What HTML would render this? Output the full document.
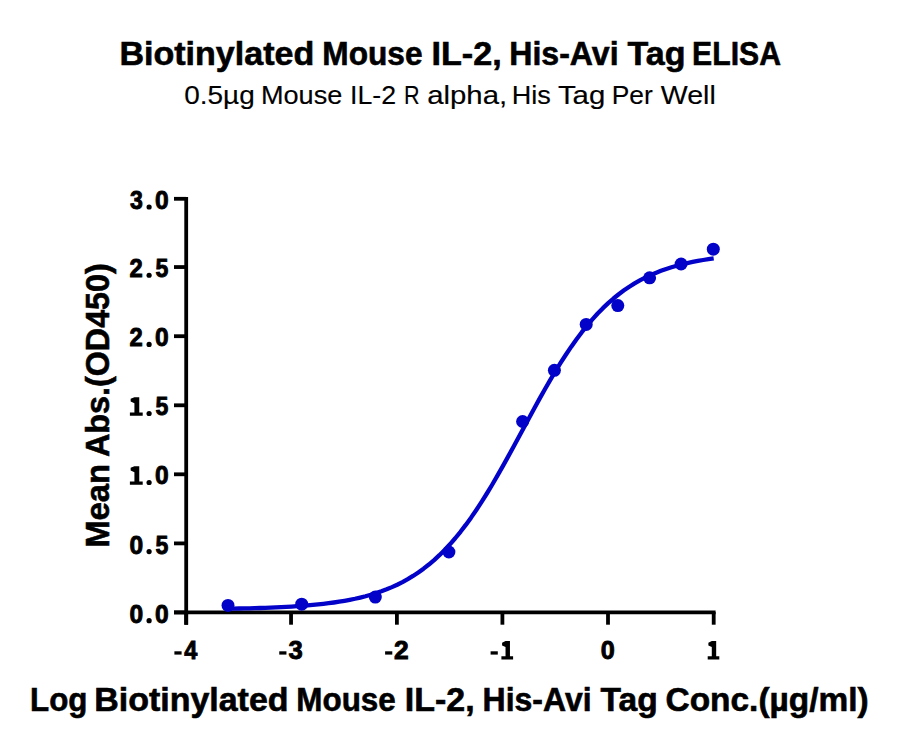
<!DOCTYPE html>
<html><head><meta charset="utf-8"><style>
html,body{margin:0;padding:0;background:#fff;width:900px;height:750px;overflow:hidden}
svg{display:block}
text{font-family:"Liberation Sans",sans-serif;fill:#000}
.b{font-weight:bold;stroke:#000;stroke-width:0.6px}
.r{stroke:#000;stroke-width:0.15px}
.d{font-weight:bold;stroke:#000;stroke-width:0.9px}
</style></head><body>
<svg width="900" height="750" viewBox="0 0 900 750">
<rect width="900" height="750" fill="#fff"/>
<text class="b" x="119.47" y="65" font-size="33" textLength="194.70" lengthAdjust="spacingAndGlyphs">Biotinylated</text>
<text class="b" x="322.32" y="65" font-size="33" textLength="100.16" lengthAdjust="spacingAndGlyphs">Mouse</text>
<text class="b" x="431.46" y="65" font-size="33" textLength="70.26" lengthAdjust="spacingAndGlyphs">IL-2,</text>
<text class="b" x="509.30" y="65" font-size="33" textLength="109.30" lengthAdjust="spacingAndGlyphs">His-Avi</text>
<text class="b" x="627.60" y="65" font-size="33" textLength="57.98" lengthAdjust="spacingAndGlyphs">Tag</text>
<text class="b" x="692.11" y="65" font-size="33" textLength="88.86" lengthAdjust="spacingAndGlyphs">ELISA</text>
<text class="r" x="184.20" y="103.8" font-size="26" textLength="70.60" lengthAdjust="spacingAndGlyphs">0.5&#181;g</text>
<text class="r" x="260.96" y="103.8" font-size="26" textLength="81.37" lengthAdjust="spacingAndGlyphs">Mouse</text>
<text class="r" x="349.99" y="103.8" font-size="26" textLength="46.02" lengthAdjust="spacingAndGlyphs">IL-2</text>
<text class="r" x="404.09" y="103.8" font-size="26" textLength="15.58" lengthAdjust="spacingAndGlyphs">R</text>
<text class="r" x="427.16" y="103.8" font-size="26" textLength="79.96" lengthAdjust="spacingAndGlyphs">alpha,</text>
<text class="r" x="511.66" y="103.8" font-size="26" textLength="39.11" lengthAdjust="spacingAndGlyphs">His</text>
<text class="r" x="557.92" y="103.8" font-size="26" textLength="47.36" lengthAdjust="spacingAndGlyphs">Tag</text>
<text class="r" x="611.71" y="103.8" font-size="26" textLength="41.04" lengthAdjust="spacingAndGlyphs">Per</text>
<text class="r" x="660.78" y="103.8" font-size="26" textLength="55.03" lengthAdjust="spacingAndGlyphs">Well</text>
<text class="b" x="30.04" y="711.0" font-size="33" textLength="57.36" lengthAdjust="spacingAndGlyphs">Log</text>
<text class="b" x="94.18" y="711.0" font-size="33" textLength="194.40" lengthAdjust="spacingAndGlyphs">Biotinylated</text>
<text class="b" x="296.34" y="711.0" font-size="33" textLength="99.44" lengthAdjust="spacingAndGlyphs">Mouse</text>
<text class="b" x="404.88" y="711.0" font-size="33" textLength="69.83" lengthAdjust="spacingAndGlyphs">IL-2,</text>
<text class="b" x="482.60" y="711.0" font-size="33" textLength="108.99" lengthAdjust="spacingAndGlyphs">His-Avi</text>
<text class="b" x="600.60" y="711.0" font-size="33" textLength="57.25" lengthAdjust="spacingAndGlyphs">Tag</text>
<text class="b" x="665.56" y="711.0" font-size="33" textLength="203.05" lengthAdjust="spacingAndGlyphs">Conc.(&#181;g/ml)</text>
<text class="b" transform="translate(109.2,0) rotate(-90)" x="-547.85" y="0" font-size="33.5" textLength="83.94" lengthAdjust="spacingAndGlyphs">Mean</text>
<text class="b" transform="translate(109.2,0) rotate(-90)" x="-457.00" y="0" font-size="33.5" textLength="193.77" lengthAdjust="spacingAndGlyphs">Abs.(OD450)</text>
<g stroke="#000" stroke-width="3.8" fill="none" stroke-linecap="butt">
<line x1="186.2" y1="196.9" x2="186.2" y2="624.7"/>
<line x1="174" y1="612.45" x2="715.6" y2="612.45"/>
<line x1="174" y1="612.45" x2="186.2" y2="612.45"/><line x1="174" y1="543.40" x2="186.2" y2="543.40"/><line x1="174" y1="474.30" x2="186.2" y2="474.30"/><line x1="174" y1="405.30" x2="186.2" y2="405.30"/><line x1="174" y1="336.20" x2="186.2" y2="336.20"/><line x1="174" y1="267.05" x2="186.2" y2="267.05"/><line x1="174" y1="198.80" x2="186.2" y2="198.80"/>
<line x1="186.20" y1="612" x2="186.20" y2="624.7"/><line x1="291.05" y1="612" x2="291.05" y2="624.7"/><line x1="396.90" y1="612" x2="396.90" y2="624.7"/><line x1="502.40" y1="612" x2="502.40" y2="624.7"/><line x1="608.00" y1="612" x2="608.00" y2="624.7"/><line x1="713.70" y1="612" x2="713.70" y2="624.7"/>
</g>
<g fill="#000">
<text class="d" x="129.58" y="622.55" font-size="25.5" textLength="13.66" lengthAdjust="spacingAndGlyphs">0</text>
<circle cx="149.1" cy="620.65" r="2.6"/>
<text class="d" x="155.08" y="622.55" font-size="25.5" textLength="13.66" lengthAdjust="spacingAndGlyphs">0</text>
<text class="d" x="129.58" y="553.50" font-size="25.5" textLength="13.66" lengthAdjust="spacingAndGlyphs">0</text>
<circle cx="149.1" cy="551.60" r="2.6"/>
<text class="d" x="155.49" y="553.50" font-size="25.5" textLength="12.84" lengthAdjust="spacingAndGlyphs">5</text>
<path transform="translate(129.90,484.80) scale(1.076,0.974)" d="M4.2,-19.1 L8.7,-19.1 L8.7,-3.4 L11.9,-3.4 L11.9,0 L0,0 L0,-3.4 L4.2,-3.4 L4.2,-13 L0.7,-14.6 L0.7,-17.4 Z"/>
<circle cx="149.1" cy="482.50" r="2.6"/>
<text class="d" x="155.08" y="484.40" font-size="25.5" textLength="13.66" lengthAdjust="spacingAndGlyphs">0</text>
<path transform="translate(129.90,415.80) scale(1.076,0.974)" d="M4.2,-19.1 L8.7,-19.1 L8.7,-3.4 L11.9,-3.4 L11.9,0 L0,0 L0,-3.4 L4.2,-3.4 L4.2,-13 L0.7,-14.6 L0.7,-17.4 Z"/>
<circle cx="149.1" cy="413.50" r="2.6"/>
<text class="d" x="155.49" y="415.40" font-size="25.5" textLength="12.84" lengthAdjust="spacingAndGlyphs">5</text>
<text class="d" x="129.61" y="346.30" font-size="25.5" textLength="13.24" lengthAdjust="spacingAndGlyphs">2</text>
<circle cx="149.1" cy="344.40" r="2.6"/>
<text class="d" x="155.08" y="346.30" font-size="25.5" textLength="13.66" lengthAdjust="spacingAndGlyphs">0</text>
<text class="d" x="129.61" y="277.15" font-size="25.5" textLength="13.24" lengthAdjust="spacingAndGlyphs">2</text>
<circle cx="149.1" cy="275.25" r="2.6"/>
<text class="d" x="155.49" y="277.15" font-size="25.5" textLength="12.84" lengthAdjust="spacingAndGlyphs">5</text>
<text class="d" x="129.99" y="208.90" font-size="25.5" textLength="12.84" lengthAdjust="spacingAndGlyphs">3</text>
<circle cx="149.1" cy="207.00" r="2.6"/>
<text class="d" x="155.08" y="208.90" font-size="25.5" textLength="13.66" lengthAdjust="spacingAndGlyphs">0</text>
<rect x="174.40" y="651.3" width="7.2" height="3.3"/>
<text class="d" x="184.15" y="659.20" font-size="25.5" textLength="13.05" lengthAdjust="spacingAndGlyphs">4</text>
<rect x="279.25" y="651.3" width="7.2" height="3.3"/>
<text class="d" x="288.60" y="659.20" font-size="25.5" textLength="14.24" lengthAdjust="spacingAndGlyphs">3</text>
<rect x="385.10" y="651.3" width="7.2" height="3.3"/>
<text class="d" x="394.02" y="659.20" font-size="25.5" textLength="14.68" lengthAdjust="spacingAndGlyphs">2</text>
<rect x="490.60" y="651.3" width="7.2" height="3.3"/>
<path transform="translate(501.40,659.60) scale(0.983,0.974)" d="M4.2,-19.1 L8.7,-19.1 L8.7,-3.4 L11.9,-3.4 L11.9,0 L0,0 L0,-3.4 L4.2,-3.4 L4.2,-13 L0.7,-14.6 L0.7,-17.4 Z"/>
<text class="d" x="600.66" y="659.20" font-size="25.5" textLength="14.01" lengthAdjust="spacingAndGlyphs">0</text>
<path transform="translate(707.70,659.60) scale(0.975,0.974)" d="M4.2,-19.1 L8.7,-19.1 L8.7,-3.4 L11.9,-3.4 L11.9,0 L0,0 L0,-3.4 L4.2,-3.4 L4.2,-13 L0.7,-14.6 L0.7,-17.4 Z"/>
</g>
<polyline points="228.40,608.71 233.67,608.62 238.95,608.52 244.22,608.40 249.50,608.28 254.77,608.13 260.05,607.98 265.32,607.80 270.60,607.60 275.87,607.38 281.15,607.14 286.42,606.86 291.70,606.56 296.97,606.22 302.25,605.84 307.52,605.42 312.80,604.96 318.07,604.44 323.35,603.86 328.62,603.21 333.90,602.50 339.17,601.70 344.45,600.82 349.72,599.84 355.00,598.76 360.27,597.55 365.55,596.22 370.82,594.74 376.10,593.11 381.37,591.31 386.65,589.32 391.92,587.12 397.20,584.71 402.47,582.06 407.75,579.15 413.02,575.96 418.30,572.48 423.57,568.68 428.85,564.54 434.12,560.05 439.40,555.20 444.67,549.95 449.95,544.31 455.22,538.26 460.50,531.80 465.77,524.93 471.05,517.65 476.32,509.97 481.60,501.91 486.87,493.49 492.15,484.74 497.42,475.70 502.70,466.40 507.97,456.90 513.25,447.24 518.52,437.48 523.80,427.69 529.07,417.91 534.35,408.21 539.62,398.64 544.90,389.26 550.17,380.11 555.45,371.24 560.72,362.69 566.00,354.48 571.27,346.65 576.55,339.22 581.82,332.18 587.10,325.56 592.38,319.36 597.65,313.56 602.92,308.16 608.20,303.16 613.47,298.53 618.75,294.26 624.02,290.33 629.30,286.72 634.58,283.42 639.85,280.41 645.12,277.66 650.40,275.15 655.67,272.88 660.95,270.81 666.22,268.94 671.50,267.24 676.78,265.71 682.05,264.32 687.33,263.06 692.60,261.93 697.88,260.91 703.15,260.00 708.42,259.17 713.70,258.42" fill="none" stroke="#0202c8" stroke-width="4.3" stroke-linejoin="round"/>
<g fill="#0202c8">
<circle cx="228" cy="605.4" r="6.5"/>
<circle cx="301.7" cy="604.2" r="6.5"/>
<circle cx="375.3" cy="597.1" r="6.5"/>
<circle cx="448.9" cy="552.0" r="6.5"/>
<circle cx="522.6" cy="421.5" r="6.5"/>
<circle cx="554.4" cy="370.3" r="6.5"/>
<circle cx="586.2" cy="324.4" r="6.5"/>
<circle cx="617.8" cy="305.6" r="6.5"/>
<circle cx="649.6" cy="277.8" r="6.5"/>
<circle cx="681.1" cy="264.0" r="6.5"/>
<circle cx="713.3" cy="249.2" r="6.5"/>
</g>
</svg>
</body></html>
